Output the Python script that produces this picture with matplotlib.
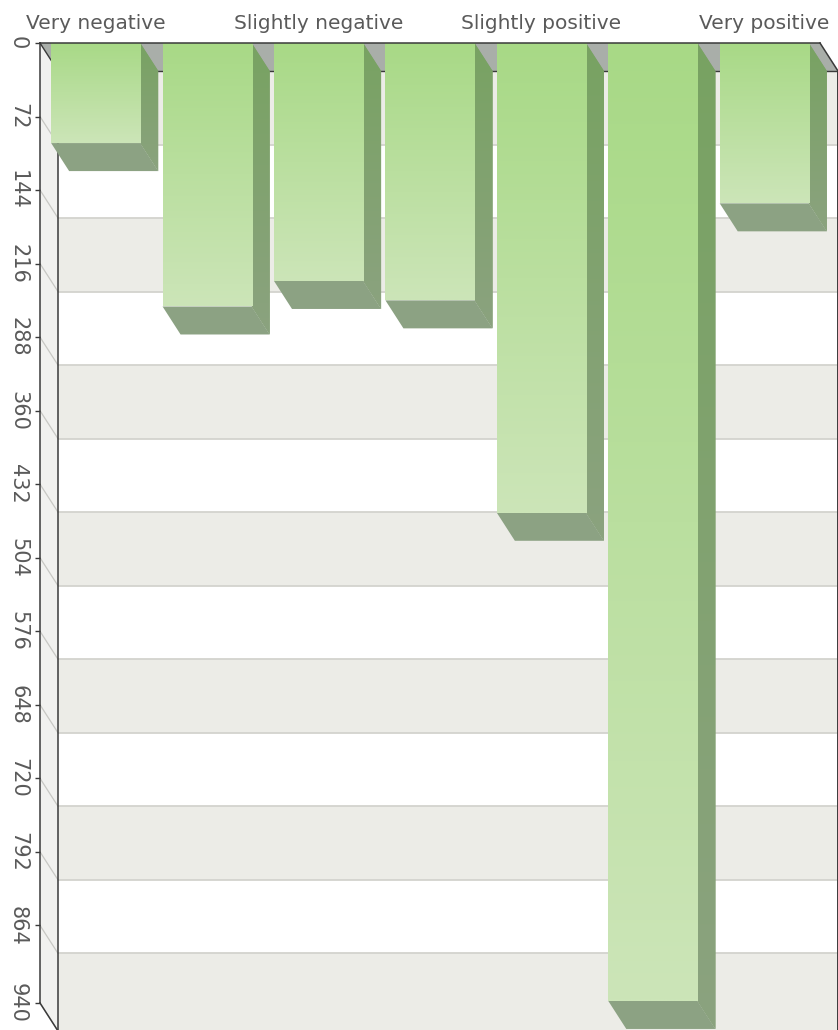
import matplotlib
matplotlib.use('Agg')
import matplotlib.pyplot as plt
from matplotlib.patches import Polygon
import numpy as np

categories = ['Very negative', 'Negative', 'Slightly negative', 'Neutral',
              'Slightly positive', 'Positive', 'Very positive']
shown_labels = ['Very negative', '', 'Slightly negative', '',
                'Slightly positive', '', 'Very positive']
counts = [98, 258, 233, 252, 460, 938, 157]
y_ticks = [0, 72, 144, 216, 288, 360, 432, 504, 576, 648, 720, 792, 864, 940]
y_max = 940

W, H = 838, 1030
fig = plt.figure(figsize=(W / 100, H / 100), dpi=100)
fig.patch.set_facecolor('white')
ax = fig.add_axes([40 / W, 27 / H, 780 / W, 960 / H])
ax.set_facecolor('none')
n = len(categories)
ax.set_xlim(0, n)
ax.set_ylim(y_max, 0)

# depth of the fake 3d, in data units (about 18 px right, 28 px down)
dx = 18 / 780 * n
dy = 28 / 960 * y_max

dark = '#3a3a3a'


def grad(c0, c1, steps=256):
    c0 = np.array(matplotlib.colors.to_rgb(c0))
    c1 = np.array(matplotlib.colors.to_rgb(c1))
    t = np.linspace(0, 1, steps)[:, None]
    return (c0 * (1 - t) + c1 * t)[:, None, :]


def poly(pts, **kw):
    p = Polygon(pts, closed=True, clip_on=False, **kw)
    ax.add_patch(p)
    return p


# back wall with alternating bands
for i in range(len(y_ticks) - 1):
    lo, hi = y_ticks[i], y_ticks[i + 1]
    col = '#ecece7' if i % 2 == 0 else '#ffffff'
    poly([[dx, lo + dy], [n + dx, lo + dy], [n + dx, hi + dy], [dx, hi + dy]],
         facecolor=col, edgecolor='none', zorder=1)
for t in y_ticks[1:]:
    ax.plot([dx, n + dx], [t + dy, t + dy], color='#d3d3ce', lw=1.3,
            zorder=1.1, clip_on=False)

# left wall and ceiling (value 0 plane)
poly([[0, 0], [dx, dy], [dx, y_max + dy], [0, y_max]],
     facecolor='#f1f1ef', edgecolor='none', zorder=1.2)
for t in y_ticks[1:]:
    ax.plot([0, dx], [t, t + dy], color='#c8c8c4', lw=0.9, zorder=1.3,
            clip_on=False)
poly([[0, 0], [n, 0], [n + dx, dy], [dx, dy]],
     facecolor='#a9aea9', edgecolor='none', zorder=1.4)
ax.plot([0, dx], [0, dy], color=dark, lw=1.0, zorder=1.5, clip_on=False)

# back edges
ax.plot([dx, n + dx], [dy, dy], color=dark, lw=1.0, zorder=1.5, clip_on=False)
ax.plot([dx, dx], [dy, y_max + dy], color=dark, lw=1.1, zorder=1.5,
        clip_on=False)

# bars
x = np.arange(n) + 0.5
bars = ax.bar(x, counts, width=0.8, color='#b8de9e', edgecolor='none',
              zorder=3)
front_g = grad('#a8d986', '#cce5b8')
side_g = grad('#78a262', '#8ba37f')
for b, v in zip(bars, counts):
    xl = b.get_x()
    xr = xl + b.get_width()
    im = ax.imshow(front_g, extent=(xl, xr, v, 0), aspect='auto',
                   origin='upper', interpolation='bilinear', zorder=3.1)
    im.set_clip_path(b)
    side = poly([[xr, 0], [xr + dx, dy], [xr + dx, v + dy], [xr, v]],
                facecolor='#82a270', edgecolor='none', zorder=2.8)
    im2 = ax.imshow(side_g, extent=(xr, xr + dx, v + dy, 0), aspect='auto',
                    origin='upper', interpolation='bilinear', zorder=2.9)
    im2.set_clip_path(side)
    im2.set_clip_box(fig.bbox)
    poly([[xl, v], [xr, v], [xr + dx, v + dy], [xl + dx, v + dy]],
         facecolor='#8ca283', edgecolor='none', zorder=2.9)

# front frame
ax.plot([n, n + dx], [0, dy], color=dark, lw=1.1, zorder=5, clip_on=False)
ax.plot([n + dx, n + dx], [dy, y_max + dy], color=dark, lw=1.4, zorder=5,
        clip_on=False)
ax.plot([0, dx], [y_max, y_max + dy], color=dark, lw=1.1, zorder=5,
        clip_on=False)

for s in ['right', 'bottom']:
    ax.spines[s].set_visible(False)
for s in ['top', 'left']:
    ax.spines[s].set_color(dark)
    ax.spines[s].set_linewidth(1.1)
    ax.spines[s].set_zorder(6)

ax.xaxis.tick_top()
ax.set_xticks(x)
ax.set_xticklabels(shown_labels)
ax.tick_params(axis='x', length=0, pad=7, labelsize=14.5, labelcolor='#5a5a5a')

ax.set_yticks(y_ticks)
ax.set_yticklabels([str(t) for t in y_ticks])
ax.tick_params(axis='y', direction='out', length=3.6, width=1.0, color=dark,
               pad=5, labelsize=15, labelcolor='#5a5a5a', labelrotation=-90)
for lab in ax.get_yticklabels():
    lab.set_va('center')

ax.set_xlim(0, n)
ax.set_ylim(y_max, 0)

fig.savefig('out.png', dpi=100)
